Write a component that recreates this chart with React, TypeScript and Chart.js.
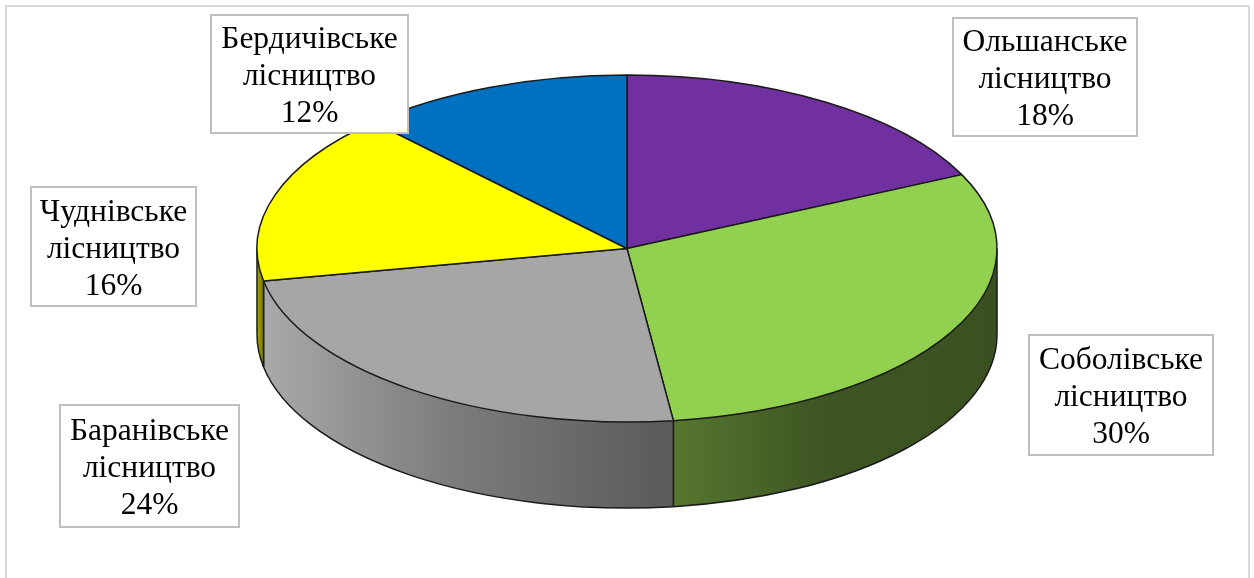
import React, { useEffect, useRef } from 'react';
import { Chart, registerables } from 'chart.js';

Chart.register(...registerables);

// ---- data ----
const categories = [
  'Ольшанське лісництво',
  'Соболівське лісництво',
  'Баранівське лісництво',
  'Чуднівське лісництво',
  'Бердичівське лісництво',
];
const shares = [18, 30, 24, 16, 12];

// ---- styles ----
const topColors = ['#7030A0', '#92D050', '#A6A6A6', '#FFFF00', '#0070C0'];
const sideColors = [
  ['#4e2272', '#3f1a5c', '#361650'],
  ['#56772f', '#3e5623', '#3a5020'],
  ['#a9a9a9', '#7d7d7d', '#5a5a5a'],
  ['#b0b000', '#8f8f00', '#7a7a00'],
  ['#00568f', '#004476', '#003a66'],
];
// label boxes: left, top, width, height
const labelBoxes = [
  [953, 18, 184, 118],
  [1029, 335, 184, 120],
  [60, 405, 179, 122],
  [31, 187, 165, 119],
  [211, 15, 197, 118],
];

const CANVAS_W = 1254;
const CANVAS_H = 760;
const PIE_R = 370;
const SCREEN_CX = 627;
const SCREEN_CY = 248.5;
const TILT = 173.5 / 370;
const DEPTH = 86;
const LABEL_FONT = '31.5px "Liberation Serif", "Times New Roman", serif';
const LINE_H = 37;
const TEXT_SHIFT = 3;

const pie3d = {
  id: 'pie3d',
  beforeDatasetsDraw(chart: any) {
    const ctx: CanvasRenderingContext2D = chart.ctx;
    const arcs = chart.getDatasetMeta(0).data as any[];
    if (!arcs.length) return;
    const a0 = arcs[0];
    const a = a0.outerRadius;
    const b = a * TILT;
    const cx = SCREEN_CX;
    const cy = SCREEN_CY;

    // extruded sides
    arcs.forEach((arc, i) => {
      const t1 = Math.max(arc.startAngle, 0);
      const t2 = Math.min(arc.endAngle, Math.PI);
      if (t2 <= t1) return;
      const x1 = cx + a * Math.cos(t1);
      const x2 = cx + a * Math.cos(t2);
      const y1 = cy + b * Math.sin(t1);
      const y2 = cy + b * Math.sin(t2);
      const g = ctx.createLinearGradient(Math.min(x1, x2), 0, Math.max(x1, x2), 0);
      const sc = sideColors[i];
      g.addColorStop(0, sc[0]);
      g.addColorStop(0.45, sc[1]);
      g.addColorStop(1, sc[2]);
      ctx.save();
      ctx.beginPath();
      ctx.ellipse(cx, cy, a, b, 0, t1, t2, false);
      ctx.lineTo(x2, y2 + DEPTH);
      ctx.ellipse(cx, cy + DEPTH, a, b, 0, t2, t1, true);
      ctx.closePath();
      ctx.fillStyle = g;
      ctx.fill();
      ctx.strokeStyle = '#1a1a1a';
      ctx.lineWidth = 1.5;
      ctx.beginPath();
      ctx.ellipse(cx, cy + DEPTH, a, b, 0, t1, t2, false);
      ctx.stroke();
      ctx.beginPath();
      ctx.moveTo(x1, y1);
      ctx.lineTo(x1, y1 + DEPTH);
      ctx.moveTo(x2, y2);
      ctx.lineTo(x2, y2 + DEPTH);
      ctx.stroke();
      ctx.restore();
    });

    // flatten the top face
    ctx.save();
    ctx.translate(cx, cy);
    ctx.scale(1, TILT);
    ctx.translate(-a0.x, -a0.y);
    const dpr = chart.currentDevicePixelRatio || 1;
    const orig = ctx.stroke;
    (ctx as any).__origStroke = orig;
    (ctx as any).stroke = function (...args: any[]) {
      this.save();
      this.setTransform(dpr, 0, 0, dpr, 0, 0);
      orig.apply(this, args);
      this.restore();
    };
  },
  afterDatasetsDraw(chart: any) {
    const ctx: any = chart.ctx;
    if (ctx.__origStroke) {
      ctx.stroke = ctx.__origStroke;
      delete ctx.__origStroke;
      ctx.restore();
    }
  },
  afterDraw(chart: any) {
    const ctx: CanvasRenderingContext2D = chart.ctx;
    const values = chart.data.datasets[0].data as number[];
    const labels = chart.data.labels as string[];
    const total = values.reduce((s, v) => s + v, 0);
    ctx.save();
    labels.forEach((lab, i) => {
      const [l, t, w, h] = labelBoxes[i];
      ctx.fillStyle = '#ffffff';
      ctx.fillRect(l, t, w, h);
      ctx.strokeStyle = '#bfbfbf';
      ctx.lineWidth = 2;
      ctx.strokeRect(l, t, w, h);
      const parts = lab.split(' ');
      const lines = [parts[0], parts.slice(1).join(' '), `${Math.round((values[i] / total) * 100)}%`];
      ctx.fillStyle = '#000000';
      ctx.font = LABEL_FONT;
      ctx.textAlign = 'center';
      ctx.textBaseline = 'middle';
      lines.forEach((ln, j) => {
        ctx.fillText(ln, l + w / 2, t + h / 2 + (j - 1) * LINE_H + TEXT_SHIFT);
      });
    });
    ctx.restore();
  },
};

export default function App() {
  const ref = useRef<HTMLCanvasElement>(null);
  useEffect(() => {
    if (!ref.current) return;
    const chart = new Chart(ref.current, {
      type: 'pie',
      data: {
        labels: categories,
        datasets: [
          {
            data: shares,
            backgroundColor: topColors,
            borderColor: '#1a1a1a',
            borderWidth: 1.5,
            clip: false as any,
          },
        ],
      },
      options: {
        responsive: false,
        animation: false,
        events: [],
        radius: PIE_R,
        layout: { padding: 0 },
        plugins: {
          legend: { display: false },
          tooltip: { enabled: false },
        },
      } as any,
      plugins: [pie3d],
    });
    return () => chart.destroy();
  }, []);
  return (
    <div
      style={{
        position: 'fixed',
        left: 0,
        top: 0,
        width: 1254,
        height: 578,
        overflow: 'hidden',
        background: '#ffffff',
      }}
    >
      <div
        style={{
          position: 'absolute',
          left: 5,
          top: 5,
          width: 1245,
          height: 700,
          border: '2px solid #d9d9d9',
          boxSizing: 'border-box',
        }}
      />
      <canvas
        ref={ref}
        width={CANVAS_W}
        height={CANVAS_H}
        style={{ position: 'absolute', left: 0, top: 0, display: 'block' }}
      />
    </div>
  );
}
